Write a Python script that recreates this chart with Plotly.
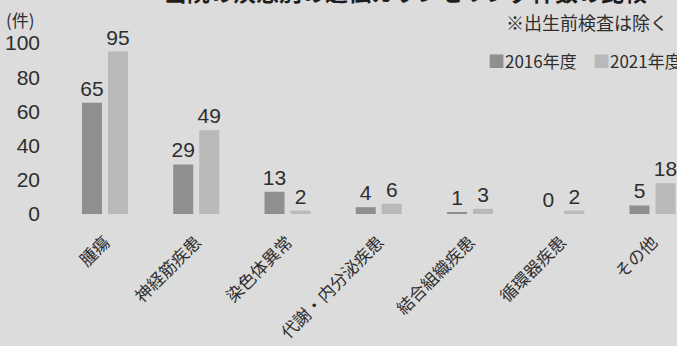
import plotly.graph_objects as go

categories = ["腫瘍", "神経筋疾患", "染色体異常", "代謝・内分泌疾患", "結合組織疾患", "循環器疾患", "その他"]
values_2016 = [65, 29, 13, 4, 1, 0, 5]
values_2021 = [95, 49, 2, 6, 3, 2, 18]
series_names = ["2016年度", "2021年度"]
series_colors = ["#8f8f8f", "#b9b9b9"]
y_ticks = [0, 20, 40, 60, 80, 100]

W, H = 677, 346
L, R, T, B = 59, 0, 43, 132
plot_w = W - L - R
plot_h = H - T - B

def px_to_xp(px):
    return (px - L) / plot_w

def px_to_yp(py):
    return (H - B - py) / plot_h

digit_font = "Liberation Sans, Arial, sans-serif"
cjk_font = "Noto Sans CJK JP, sans-serif"
txt_col = "#2e2e2e"
bg = "#dcdcdc"

fig = go.Figure()
for name, vals, col in zip(series_names, [values_2016, values_2021], series_colors):
    fig.add_trace(go.Bar(
        x=categories, y=vals, name=name,
        marker=dict(color=col, line=dict(width=0)),
        text=[str(v) for v in vals], textposition="outside",
        textfont=dict(family=digit_font, size=21, color=txt_col),
        constraintext="none", textangle=0,
        cliponaxis=False, showlegend=False,
    ))

spacing = 91.25
r0 = -(105 - L) / spacing
r1 = r0 + plot_w / spacing

fig.update_layout(
    width=W, height=H,
    margin=dict(l=L, r=R, t=T, b=B, pad=0, autoexpand=False),
    paper_bgcolor=bg, plot_bgcolor=bg,
    barmode="group", bargap=0.43, bargroupgap=0.23,
    showlegend=False,
    xaxis=dict(
        type="category", range=[r0, r1], showgrid=False, zeroline=False,
        showline=False, ticks="", tickangle=-45,
        tickfont=dict(family=cjk_font, size=17, color=txt_col),
        ticklabelstandoff=14,
    ),
    yaxis=dict(
        range=[0, 100], tickvals=y_ticks, showgrid=False, zeroline=False,
        showline=False, ticks="",
        tickfont=dict(family=digit_font, size=21, color=txt_col),
        ticklabelstandoff=18,
    ),
    font=dict(family=cjk_font, color=txt_col),
)

# legend drawn as text entries with coloured squares
legend_left_px = [486, 591]
for name, col, lx in zip(series_names, series_colors, legend_left_px):
    fig.add_annotation(
        text=f"<span style='color:{col}'>■</span>{name}",
        xref="paper", yref="paper", x=px_to_xp(lx), y=px_to_yp(60),
        xanchor="left", yanchor="middle", showarrow=False,
        font=dict(family=cjk_font, size=17, color=txt_col),
    )

fig.add_annotation(
    text="当院の疾患別の遺伝カウンセリング件数の比較",
    xref="paper", yref="paper", x=px_to_xp(405), y=px_to_yp(-9),
    xanchor="center", yanchor="middle", showarrow=False,
    font=dict(family=cjk_font, size=23, color="#1e1e1e", weight="bold"),
)
fig.add_annotation(
    text="(件)", xref="paper", yref="paper",
    x=px_to_xp(4), y=px_to_yp(19), xanchor="left", yanchor="middle",
    showarrow=False, font=dict(family=cjk_font, size=17, color=txt_col),
)
fig.add_annotation(
    text="※出生前検査は除く", xref="paper", yref="paper",
    x=px_to_xp(670), y=px_to_yp(22), xanchor="right", yanchor="middle",
    showarrow=False, font=dict(family=cjk_font, size=18, color=txt_col),
)

fig.write_html("out.html")
